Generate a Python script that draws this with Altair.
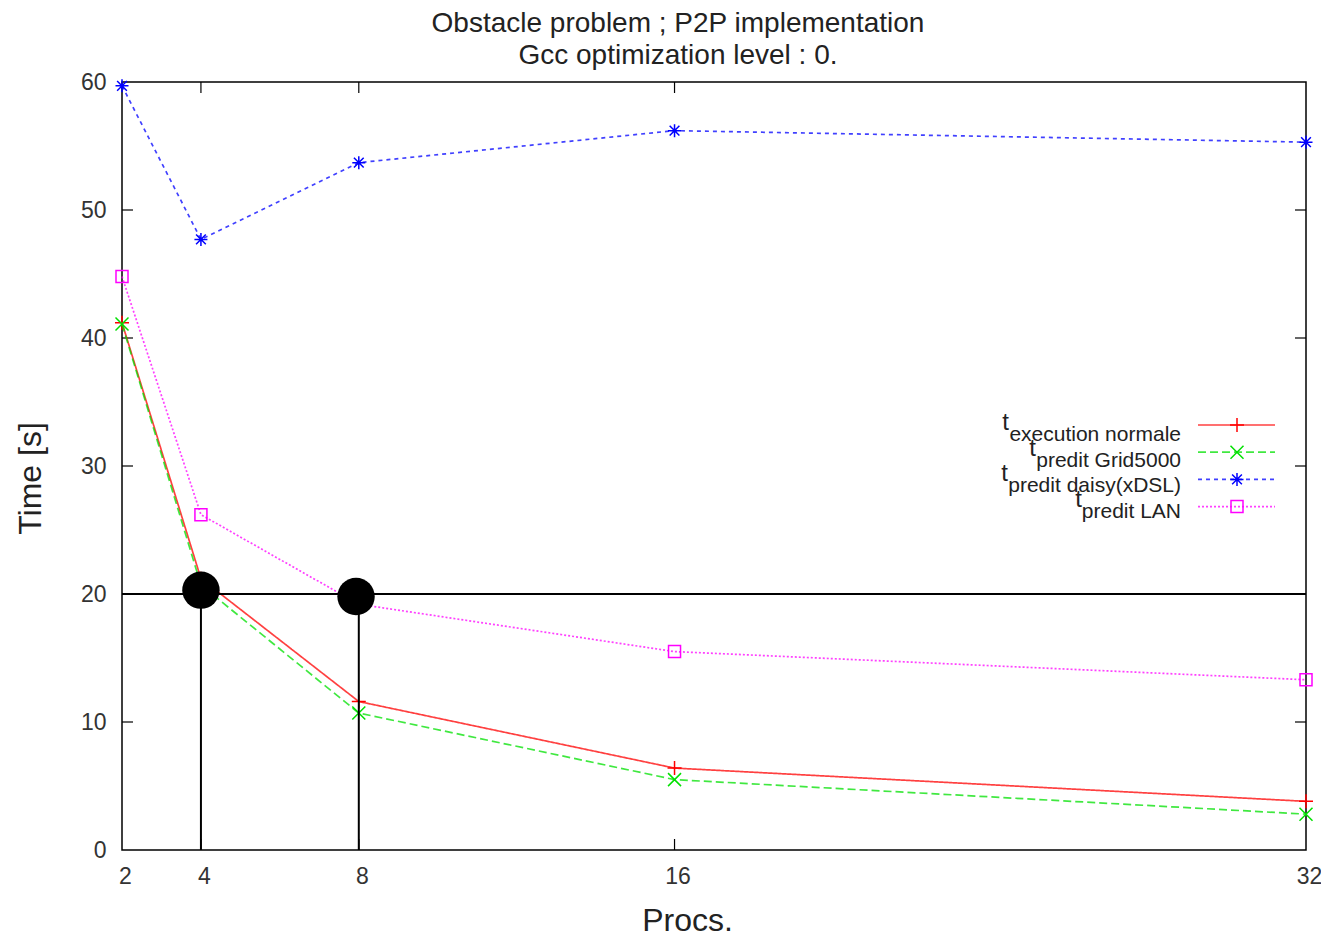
import altair as alt
import pandas as pd

# ---------------- data ----------------
procs = [2, 4, 8, 16, 32]
t_exec = [41.2, 21.2, 11.6, 6.4, 3.8]
t_grid = [41.1, 20.7, 10.7, 5.5, 2.8]
t_daisy = [59.7, 47.7, 53.7, 56.2, 55.3]
t_lan = [44.8, 26.2, 19.2, 15.5, 13.3]

series_subs = ["execution normale", "predit Grid5000", "predit daisy(xDSL)", "predit LAN"]
series_values = [t_exec, t_grid, t_daisy, t_lan]

x_ticks = [2, 4, 8, 16, 32]
y_ticks = [0, 10, 20, 30, 40, 50, 60]

threshold = 20
highlight_x = [4, 7.93]
highlight_y = [20.3, 19.8]
drop_x = [4, 8]

title_lines = ["Obstacle problem ; P2P implementation", "Gcc optimization level : 0."]

# ---------------- styles ----------------
FONT = "Liberation Sans"
W, H = 1184, 768
PLUS = "M-1,0L1,0M0,-1L0,1"
CROSS = "M-1,-1L1,1M-1,1L1,-1"
STAR = "M-1,0L1,0M0,-1L0,1M-0.75,-0.75L0.75,0.75M-0.75,0.75L0.75,-0.75"
colors = ["#ff0000", "#00e000", "#0000ff", "#ff00ff"]
dashes = [[1, 0], [8, 4], [4, 4], [2, 2]]
shapes = [PLUS, CROSS, STAR, "square"]
msizes = [196, 169, 169, 144]

xs = alt.Scale(domain=[2, 32], nice=False, zero=False)
ys = alt.Scale(domain=[0, 60], nice=False, zero=True)

x_axis = alt.Axis(values=x_ticks, labelPadding=15, labelFlush=False, labelOffset=3,
                  title="Procs.", titleX=565, titleY=80, titleBaseline="alphabetic",
                  titleAlign="center", titleAnchor="start")
y_axis = alt.Axis(values=y_ticks, labelPadding=16, labelFlush=False, title="Time [s]",
                  titleAngle=270, titleX=-82, titleY=396, titleBaseline="alphabetic",
                  titleAlign="center", titleAnchor="start")

X = alt.X("procs:Q", scale=xs, axis=x_axis)
Y = alt.Y("time:Q", scale=ys, axis=y_axis)

layers = []

# inner ticks (gnuplot style, mirrored on all sides)
ytk = alt.Chart(pd.DataFrame({"time": y_ticks[1:-1]}))
layers.append(ytk.mark_rule(color="black", strokeWidth=1.2).encode(
    y=Y, x=alt.value(0), x2=alt.value(11)))
layers.append(ytk.mark_rule(color="black", strokeWidth=1.2).encode(
    y=Y, x=alt.value(W - 11), x2=alt.value(W)))
xtk = alt.Chart(pd.DataFrame({"procs": x_ticks[1:-1]}))
layers.append(xtk.mark_rule(color="black", strokeWidth=1.2).encode(
    x=X, y=alt.value(0), y2=alt.value(11)))
layers.append(xtk.mark_rule(color="black", strokeWidth=1.2).encode(
    x=X, y=alt.value(H - 11), y2=alt.value(H)))

# series
for vals, col, dash, shp, ms in zip(series_values, colors, dashes, shapes, msizes):
    df = pd.DataFrame({"procs": procs, "time": vals})
    base = alt.Chart(df)
    layers.append(base.mark_line(color=col, strokeDash=dash, strokeWidth=1.7, opacity=0.75).encode(x=X, y=Y))
    layers.append(base.mark_point(shape=shp, filled=False, size=ms, strokeWidth=1.5,
                                  color=col, opacity=1).encode(x=X, y=Y))

# threshold line and drop lines
hl = alt.Chart(pd.DataFrame({"procs": [procs[0]], "procs2": [procs[-1]], "time": [threshold]}))
layers.append(hl.mark_rule(color="black", strokeWidth=2).encode(x=X, x2="procs2:Q", y=Y))
vl = alt.Chart(pd.DataFrame({"procs": drop_x, "time": [0] * len(drop_x), "time2": [threshold] * len(drop_x)}))
layers.append(vl.mark_rule(color="black", strokeWidth=2).encode(x=X, y=Y, y2="time2:Q"))

# highlight circles
hc = alt.Chart(pd.DataFrame({"procs": highlight_x, "time": highlight_y}))
layers.append(hc.mark_circle(color="black", size=1400, opacity=1).encode(x=X, y=Y))

# manual legend with subscripts
one = alt.Chart(pd.DataFrame({"a": [0]}))
t_right = [887, 914, 886, 960]
for i, (sub, col, dash, shp, ms) in enumerate(zip(series_subs, colors, dashes, shapes, msizes)):
    ly = 343 + 27.2 * i
    tb = 359 + 25.5 * i
    layers.append(one.mark_rule(color=col, strokeDash=dash, strokeWidth=1.7, opacity=0.75).encode(
        x=alt.value(1076), x2=alt.value(1153), y=alt.value(ly)))
    layers.append(one.mark_point(shape=shp, filled=False, size=ms, strokeWidth=1.5, color=col, opacity=1).encode(
        x=alt.value(1115), y=alt.value(ly)))
    layers.append(one.mark_text(align="right", baseline="alphabetic", font=FONT, fontSize=21, color="#222").encode(
        x=alt.value(1059), y=alt.value(tb), text=alt.value(sub)))
    layers.append(one.mark_text(align="right", baseline="alphabetic", font=FONT, fontSize=24, color="#222").encode(
        x=alt.value(t_right[i]), y=alt.value(tb - 11), text=alt.value("t")))

chart = alt.layer(*layers).properties(
    width=W, height=H,
    autosize=alt.AutoSizeParams(type="none"),
    padding={"left": 114, "top": 74, "right": 15, "bottom": 86},
    title=alt.TitleParams(text=title_lines, fontSize=28, font=FONT, fontWeight="normal",
                          color="#222", anchor="middle", frame="group", dx=-36,
                          lineHeight=32, offset=1),
).configure_view(stroke="black", strokeWidth=1.5).configure_axis(
    grid=False, ticks=False, domain=False,
    labelFont=FONT, labelFontSize=23, labelColor="#333",
    titleFont=FONT, titleFontSize=32, titleFontWeight="normal", titleColor="#222",
)

chart.save("out.html", embed_options={"renderer": "svg", "actions": False})
